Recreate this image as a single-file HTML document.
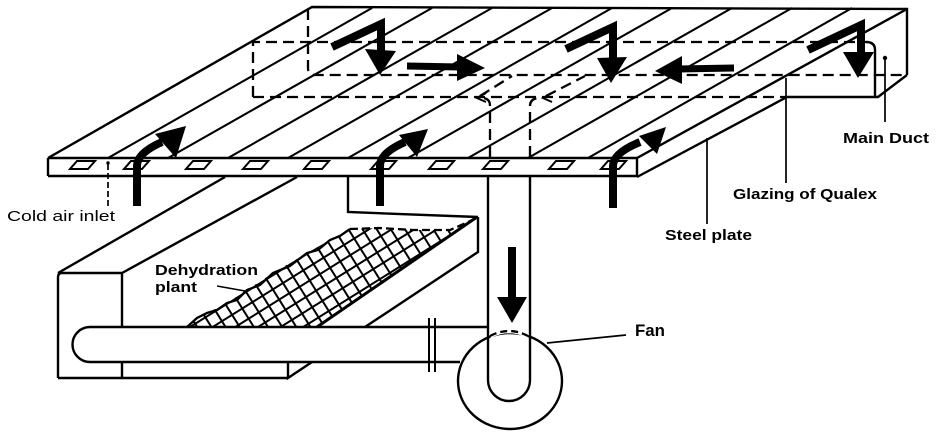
<!DOCTYPE html>
<html>
<head>
<meta charset="utf-8">
<style>
html,body{margin:0;padding:0;background:#fff;}
svg{display:block;}
text{font-family:"Liberation Sans",Arial,sans-serif;fill:#000;}
</style>
</head>
<body>
<svg width="936" height="434" viewBox="0 0 936 434" xmlns="http://www.w3.org/2000/svg">
<defs>
  <pattern id="m1" width="12" height="12" patternUnits="userSpaceOnUse" patternTransform="rotate(-32)">
    <rect x="0" y="5" width="12" height="2" fill="#000"/>
  </pattern>
  <pattern id="m2" width="12" height="12" patternUnits="userSpaceOnUse" patternTransform="rotate(58)">
    <rect x="0" y="5" width="12" height="2" fill="#000"/>
  </pattern>
</defs>
<rect width="936" height="434" fill="#fff"/>

<g fill="none" stroke="#000" stroke-width="2.4" stroke-linejoin="miter">
  <!-- panel outline -->
  <path d="M48,158 L312,7 L907,9 L907,75"/>
  <path d="M48,158 L637,158 M48,176 L637,176 M48,158 L48,176 M637,158 L637,177"/>
  <path d="M637,158 L907,9"/>
  <path d="M637,177 L787,97 L878,97 L907,75"/>
  <!-- duct front -->
  <path d="M866,42 Q875,42 875,50 L875,97"/>
  <!-- slat lines -->
  <path d="M372,8 L108,158 M432,8 L168,158 M492,8 L228,158 M552,8 L288,158 M612,8 L348,158 M672,8 L408,158 M732,8 L468,158 M792,8 L528,158 M852,8 L588,158" stroke-width="2.1"/>
</g>

<!-- front slots -->
<g fill="none" stroke="#000" stroke-width="2">
  <path d="M77,161 L95,161 L88,169 L70,169 Z"/>
  <path d="M131,161 L149,161 L142,169 L124,169 Z"/>
  <path d="M193,161 L211,161 L204,169 L186,169 Z"/>
  <path d="M250,161 L268,161 L261,169 L243,169 Z"/>
  <path d="M311,161 L329,161 L322,169 L304,169 Z"/>
  <path d="M378,161 L396,161 L389,169 L371,169 Z"/>
  <path d="M436,161 L454,161 L447,169 L429,169 Z"/>
  <path d="M490,161 L508,161 L501,169 L483,169 Z"/>
  <path d="M556,161 L574,161 L567,169 L549,169 Z"/>
  <path d="M608,161 L626,161 L619,169 L601,169 Z"/>
</g>

<!-- dashed hidden lines -->
<g fill="none" stroke="#000" stroke-width="2.3" stroke-dasharray="11,6">
  <path d="M253,97 L253,42 L866,42"/>
  <path d="M253,97 L787,97"/>
  <path d="M308,9 L308,68 Q308,75 315,75 L907,75"/>
  <path d="M490,157 L490,106 Q490,98 482,98"/>
  <path d="M530,157 L530,106 Q530,98 540,98"/>
  <path d="M480,96 L512,76"/>
  <path d="M546,96 L585,76"/>
</g>
<g fill="none" stroke="#000" stroke-width="2">
  <path d="M486,93 L477,98 L486,102"/>
  <path d="M552,93 L543,98 L552,102"/>
</g>

<!-- top arrows -->
<g stroke="#000" fill="none" stroke-width="8" stroke-linejoin="miter">
  <path d="M332,47 L381,24 L381,52"/>
  <path d="M407,66 L460,67" stroke-width="7"/>
  <path d="M566,49 L613,27 L613,59"/>
  <path d="M734,68 L678,69" stroke-width="7"/>
  <path d="M808,50 L861,25 L861,54"/>
</g>
<g fill="#000">
  <polygon points="365,49 396,51 380,75"/>
  <polygon points="457,54 485,68 457,81"/>
  <polygon points="597,58 627,57 611,83"/>
  <polygon points="682,56 655,71 682,84"/>
  <polygon points="843,52 874,52 858,78"/>
</g>

<!-- bottom inlet arrows -->
<g stroke="#000" fill="none" stroke-width="8">
  <path d="M137,206 L137,166 Q137,153 162,142"/>
  <path d="M380,206 L380,166 Q380,153 405,142"/>
  <path d="M613,208 L613,166 Q613,153 640,142"/>
</g>
<g fill="#000">
  <polygon points="155,134 186,126 176,158"/>
  <polygon points="399,135 428,129 417,157"/>
  <polygon points="639,136 666,127 657,154"/>
</g>

<!-- trough -->
<g fill="none" stroke="#000" stroke-width="2.4">
  <path d="M58,378 L58,277 Q58,273 62,273 L122,273 L122,327"/>
  <path d="M122,362 L122,378 M58,378 L288,378 M288,362 L288,378 L312,362"/>
  <path d="M365,327 L478,252 L478,217"/>
  <path d="M58,273 L225,177 M122,273 L297,177"/>
  <path d="M348,177 L348,212 L478,217"/>
</g>

<!-- mesh -->
<polygon points="187,327 207,313 227,303 247,290 273,273 307,253 330,240 350,229 380,228 413,230 450,230 477,218 317,327" fill="url(#m1)"/>
<polygon points="187,327 207,313 227,303 247,290 273,273 307,253 330,240 350,229 380,228 413,230 450,230 477,218 317,327" fill="url(#m2)"/>
<g fill="none" stroke="#000" stroke-width="2.3">
  <path d="M187,327 L197,318 L207,313 L217,310 L227,303 L237,300 L247,290 L260,285 L273,273 L290,266 L307,253 L318,250 L330,240 L340,236 L350,229"/>
  <path d="M350,229 L380,228 L413,230 L450,230 L477,218" stroke-dasharray="8,4"/>
  <path d="M317,327 L477,217" stroke-width="3"/>
  <path d="M217,286 L245,291" stroke-width="1.6"/>
</g>

<!-- pipes -->
<g fill="none" stroke="#000" stroke-width="2.4">
  <path d="M530,177 L530,380 A21,21 0 0 1 488,380 L488,177"/>
  <path d="M488,327 L90,327 A17.5,17.5 0 0 0 90,362 L460,362"/>
  <path d="M429,318 L429,372 M435,318 L435,372" stroke-width="2"/>
  <ellipse cx="510" cy="381" rx="52" ry="48"/>
</g>
<path d="M490,336 Q509,326 528,336" fill="none" stroke="#fff" stroke-width="4.5"/>
<path d="M490,336 Q509,326 528,336" fill="none" stroke="#000" stroke-width="2.3" stroke-dasharray="7,4"/>

<!-- down arrow in pipe -->
<rect x="508" y="247" width="8" height="53" fill="#000"/>
<polygon points="497,297 527,297 512,323" fill="#000"/>

<!-- leaders -->
<g fill="none" stroke="#000" stroke-width="1.7">
  <path d="M108,164 L108,207" stroke-dasharray="6,3"/>
  <path d="M885,58 L885,122"/>
  <path d="M786,78 L786,183"/>
  <path d="M707,138 L707,224"/>
  <path d="M547,343 L626,335"/>
</g>
<circle cx="108" cy="163" r="1.7" fill="#000"/>
<circle cx="885" cy="58" r="2.2" fill="#000"/>

<!-- labels -->
<text x="7" y="221" font-size="15" textLength="108" lengthAdjust="spacingAndGlyphs">Cold air inlet</text>
<text x="843" y="143" font-size="15" font-weight="bold" textLength="86" lengthAdjust="spacingAndGlyphs">Main Duct</text>
<text x="733" y="199" font-size="15" font-weight="bold" textLength="144" lengthAdjust="spacingAndGlyphs">Glazing of Qualex</text>
<text x="665" y="240" font-size="15" font-weight="bold" textLength="87" lengthAdjust="spacingAndGlyphs">Steel plate</text>
<text x="635" y="336" font-size="17" font-weight="bold" textLength="30" lengthAdjust="spacingAndGlyphs">Fan</text>
<text x="155" y="275" font-size="15" font-weight="bold" textLength="103" lengthAdjust="spacingAndGlyphs">Dehydration</text>
<text x="155" y="292" font-size="15" font-weight="bold" textLength="42" lengthAdjust="spacingAndGlyphs">plant</text>
</svg>
</body>
</html>
